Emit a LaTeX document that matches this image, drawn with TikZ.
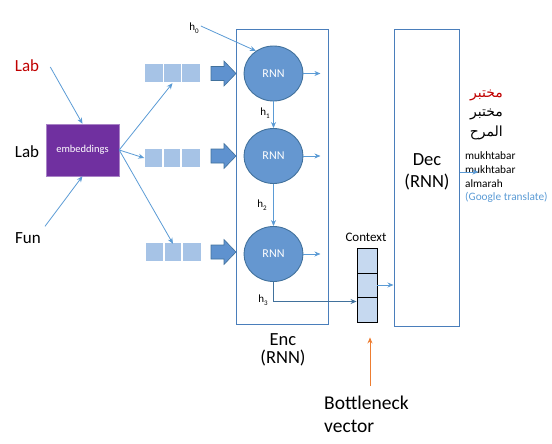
\documentclass[tikz,border=0pt]{standalone}
\usepackage{fontspec}
\setmainfont{Carlito}
\newfontfamily\arabicfont[Script=Arabic]{DejaVu Sans}
\TeXXeTstate=1
\usetikzlibrary{arrows.meta,shapes.geometric}
\definecolor{arrblue}{HTML}{5B9BD5}
\definecolor{edgeblue}{HTML}{41719C}
\definecolor{boxblue}{HTML}{4A7EBB}
\definecolor{cellblue}{HTML}{A6C3E6}
\definecolor{ctxblue}{HTML}{C6D9F0}
\definecolor{embpurple}{HTML}{7030A0}
\definecolor{labred}{HTML}{C00000}
\definecolor{bnorange}{HTML}{ED7D31}
\definecolor{circblue}{HTML}{6597D0}
\definecolor{fatblue}{HTML}{5F92CF}
\begin{document}
\begin{tikzpicture}[x=1pt,y=-1pt,
  wordtxt/.style={font=\fontsize{17}{20}\selectfont, inner sep=0pt},
  bigtxt/.style={font=\fontsize{18.5}{22}\selectfont, inner sep=0pt},
  thinarr/.style={draw=arrblue, line width=0.8pt, -{Stealth[length=6pt,width=5pt]}},
  embbox/.style={draw=embpurple!60!white, fill=embpurple, minimum width=73pt, minimum height=52pt, inner sep=0pt, text=white, font=\fontsize{10.5}{11}\selectfont},
  vecbox/.style={fill=cellblue, minimum width=55pt, minimum height=18pt, inner sep=0pt},
  rnn/.style={ellipse, draw=edgeblue, line width=0.9pt, fill=circblue, minimum width=59pt, minimum height=55pt, inner sep=0pt, text=white, font=\fontsize{12}{13}\selectfont},
  bigbox/.style={draw=boxblue, line width=1pt, inner sep=0pt},
  ctxcell/.style={draw=black, line width=0.9pt, fill=ctxblue, minimum width=20pt, inner sep=0pt},
  hlab/.style={font=\fontsize{11}{12}\selectfont, inner sep=0pt},
  fatarrow/.style={fill=fatblue, draw=edgeblue, line width=0.6pt},
  artxt/.style={anchor=east, inner sep=0pt, font=\arabicfont\fontsize{14}{15}\selectfont},
  trtxt/.style={anchor=west, inner sep=0pt, font=\fontsize{11.3}{12}\selectfont},
]
\useasboundingbox (0,0) rectangle (552,444);

% input words
\node[wordtxt, text=labred] (lab1) at (27,66) {Lab};
\node[wordtxt] (lab2) at (27,152) {Lab};
\node[wordtxt] (fun) at (28,238) {Fun};

% embeddings
\node[embbox] (emb) at (82.5,150) {\raisebox{3pt}{embeddings}};
\draw[thinarr] ([xshift=11pt,yshift=-1pt]lab1.east) -- (emb.north);
\draw[thinarr] ([xshift=4pt,yshift=6pt]fun.north east) -- (emb.south);

% vectors
\node[vecbox] (v1) at (172.5,73) {};
\node[vecbox] (v2) at (172,158) {};
\node[vecbox] (v3) at (173,252) {};
\foreach \v in {v1,v2,v3}{
  \draw[white, line width=1.5pt] ([xshift=-9.2pt]\v.north) -- ([xshift=-9.2pt]\v.south);
  \draw[white, line width=1.5pt] ([xshift=9.2pt]\v.north) -- ([xshift=9.2pt]\v.south);
}
\draw[thinarr] (emb.east) -- ([yshift=-1pt]v1.south);
\draw[thinarr] (emb.east) -- (v2.west);
\draw[thinarr] (emb.east) -- ([yshift=-1pt]v3.north);

% encoder box
\node[bigbox, minimum width=92pt, minimum height=294pt] (enc) at (282,177) {};

% fat arrows
\foreach \c in {73.5,156,252}{
  \draw[fatarrow] (211,\c-7) -- (224,\c-7) -- (224,\c-12.5) -- (236,\c) -- (224,\c+12.5) -- (224,\c+7) -- (211,\c+7) -- cycle;
}

% RNN cells
\node[rnn] (r1) at (273.5,73.5) {RNN};
\node[rnn] (r2) at (273.5,156) {RNN};
\node[rnn] (r3) at (273.5,254) {RNN};
\foreach \r in {r1,r2,r3}{
  \draw[thinarr] (\r.east) -- ++(17,0);
}

% hidden states
\node[hlab] (h0) at (194,28) {h\raisebox{-2.5pt}{\fontsize{7}{7}\selectfont 0}};
\node[hlab] (h1) at (265,113) {h\raisebox{-2.5pt}{\fontsize{7}{7}\selectfont 1}};
\node[hlab] (h2) at (262,205) {h\raisebox{-2.5pt}{\fontsize{7}{7}\selectfont 2}};
\node[hlab] (h3) at (263,300) {h\raisebox{-2.5pt}{\fontsize{7}{7}\selectfont 3}};
\draw[thinarr] ([xshift=2pt,yshift=2pt]h0.east) -- (r1.128);
\draw[thinarr] (r1.south) -- (r2.north);
\draw[thinarr] (r2.south) -- (r3.north);

% context
\node[ctxcell, minimum height=25pt] (c1) at (367,260.5) {};
\node[ctxcell, minimum height=24pt] (c2) at (367,285) {};
\node[ctxcell, minimum height=25pt] (c3) at (367,309.5) {};
\node[font=\fontsize{13}{14}\selectfont, inner sep=0pt] (ctxlab) at (366,237) {Context};
\draw[draw=edgeblue, line width=0.9pt, -{Stealth[length=6pt,width=5pt]}] (r3.south) |- ([yshift=8pt]c3.west);

% encoder label
\node[bigtxt] (enct1) at (283,340) {Enc};
\node[bigtxt] (enct2) at (283,358) {(RNN)};

% decoder
\node[bigbox, minimum width=65pt, minimum height=296pt] (dec) at (426.5,178) {};
\node[bigtxt] (dect1) at (427,160) {Dec};
\node[bigtxt] (dect2) at (427,182.5) {(RNN)};
\draw[thinarr] (c2.east) -- (dec.west |- c2.east);

% outputs
\node[artxt, text=labred] (ar1) at (503,95) {\beginR مختبر\endR};
\node[artxt] (ar2) at (503,114) {\beginR مختبر\endR};
\node[artxt] (ar3) at (503,133) {\beginR المرح\endR};
\node[trtxt] (tr1) at (465,156) {mukhtabar};
\node[trtxt] (tr2) at (465,170) {mukhtabar};
\node[trtxt] (tr3) at (465,183.5) {almarah};
\node[trtxt, text=arrblue] (tr4) at (465,197) {(Google translate)};
\draw[thinarr] ([yshift=6pt]dec.east) -- ++(19,0);

% bottleneck
\coordinate (bnstart) at (370,386);
\draw[draw=bnorange, line width=0.8pt, -{Stealth[length=6pt,width=5pt]}] (bnstart) -- ([xshift=3pt,yshift=-15pt]c3.south);
\node[font=\fontsize{19.5}{22}\selectfont, inner sep=0pt, anchor=west] (bn1) at (324,402.5) {Bottleneck};
\node[font=\fontsize{19.5}{22}\selectfont, inner sep=0pt, anchor=west] (bn2) at (324,426.5) {vector};
\end{tikzpicture}
\end{document}
